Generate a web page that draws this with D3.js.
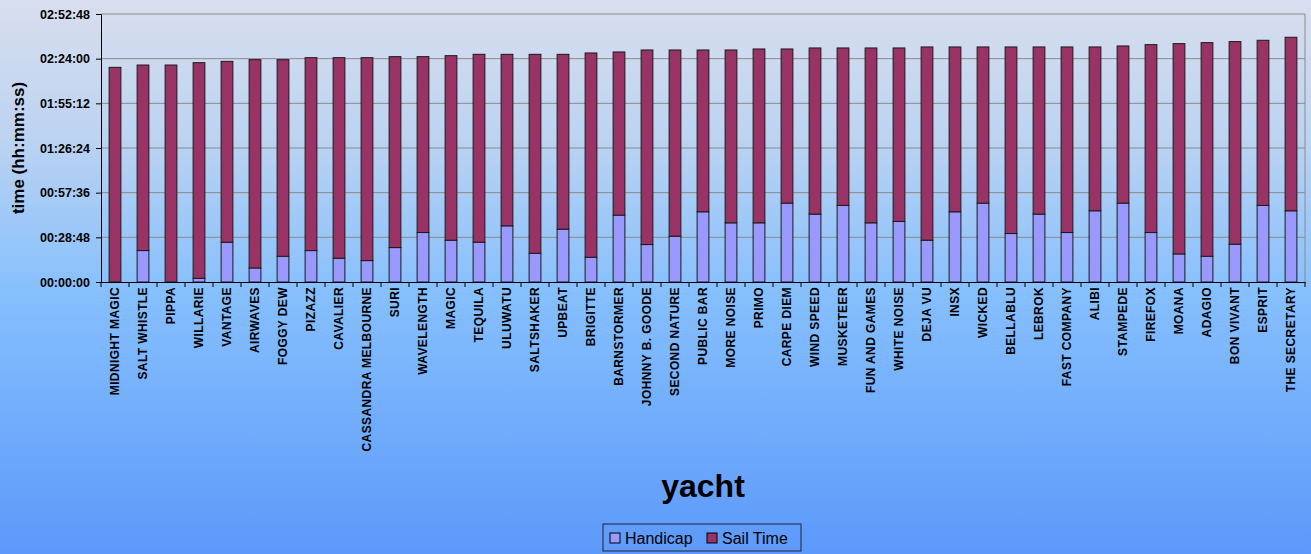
<!DOCTYPE html>
<html>
<head>
<meta charset="utf-8">
<script src="https://cdn.jsdelivr.net/npm/d3@7"></script>
<style>
  body { margin: 0; padding: 0; overflow: hidden; }
  svg { display: block; font-family: "Liberation Sans", Arial, sans-serif; }
</style>
</head>
<body>
<div id="chart"></div>
<script>
const FRAME_WIDTH = 1311;
const FRAME_HEIGHT = 554;
const MARGINS = {left: 101, right: 6, top: 14, bottom: 272};
const VIS_WIDTH = FRAME_WIDTH - MARGINS.left - MARGINS.right;
const VIS_HEIGHT = FRAME_HEIGHT - MARGINS.top - MARGINS.bottom;

// yachts, in the order shown
const YACHTS = ["MIDNIGHT MAGIC", "SALT WHISTLE", "PIPPA", "WILLARIE", "VANTAGE",
  "AIRWAVES", "FOGGY DEW", "PIZAZZ", "CAVALIER", "CASSANDRA MELBOURNE", "SURI",
  "WAVELENGTH", "MAGIC", "TEQUILA", "ULUWATU", "SALTSHAKER", "UPBEAT", "BRIGITTE",
  "BARNSTORMER", "JOHNNY B. GOODE", "SECOND NATURE", "PUBLIC BAR", "MORE NOISE",
  "PRIMO", "CARPE DIEM", "WIND SPEED", "MUSKETEER", "FUN AND GAMES", "WHITE NOISE",
  "DEJA VU", "INSX", "WICKED", "BELLABLU", "LEBROK", "FAST COMPANY", "ALIBI",
  "STAMPEDE", "FIREFOX", "MOANA", "ADAGIO", "BON VIVANT", "ESPRIT", "THE SECRETARY"];

// seconds
const HANDICAP = [0, 1216, 0, 142, 1539, 543, 996, 1216, 918, 828, 1332,
  1914, 1617, 1539, 2173, 1112, 2044, 957, 2587, 1449, 1772, 2716, 2289,
  2289, 3052, 2626, 2962, 2289, 2341, 1617, 2716, 3052, 1875, 2626, 1914, 2755,
  3052, 1914, 1086, 996, 1462, 2962, 2755];

const SAIL_TIME = [8304, 7178, 8394, 8343, 6997, 8058, 7605, 7463, 7761, 7851, 7386,
  6804, 7139, 7269, 6635, 7696, 6764, 7903, 6312, 7527, 7204, 6260, 6687,
  6726, 5963, 6428, 6092, 6765, 6713, 7476, 6377, 6041, 7218, 6467, 7179, 6338,
  6079, 7269, 8136, 8265, 7838, 6389, 6713];

const SERIES = ["Handicap", "Sail Time"];
const COLORS = ["#9999ff", "#993366"];
const Y_TICKS = [0, 1728, 3456, 5184, 6912, 8640, 10368];

function fmt(s) {
  const h = Math.floor(s / 3600), m = Math.floor((s % 3600) / 60), sec = s % 60;
  return [h, m, sec].map(v => String(v).padStart(2, "0")).join(":");
}

const FRAME = d3.select("#chart")
  .append("svg")
    .attr("width", FRAME_WIDTH)
    .attr("height", FRAME_HEIGHT);

// background gradient
const grad = FRAME.append("defs").append("linearGradient")
  .attr("id", "bg").attr("x1", 0).attr("y1", 0).attr("x2", 0).attr("y2", 1);
grad.append("stop").attr("offset", "0%").attr("stop-color", "#d8deee");
grad.append("stop").attr("offset", "25%").attr("stop-color", "#bcd3f1");
grad.append("stop").attr("offset", "52%").attr("stop-color", "#87c0fd");
grad.append("stop").attr("offset", "100%").attr("stop-color", "#5c99fa");

FRAME.append("rect")
  .attr("width", FRAME_WIDTH).attr("height", FRAME_HEIGHT)
  .attr("fill", "url(#bg)");

const data = YACHTS.map((d, i) => ({yacht: d, "Handicap": HANDICAP[i], "Sail Time": SAIL_TIME[i]}));
const stacked = d3.stack().keys(SERIES)(data);

const X_SCALE = d3.scaleBand().domain(YACHTS).range([0, VIS_WIDTH]);
const Y_SCALE = d3.scaleLinear().domain([0, 10368]).range([VIS_HEIGHT, 0]);

const G = FRAME.append("g")
  .attr("transform", "translate(" + MARGINS.left + "," + MARGINS.top + ")");

// gridlines
G.append("g")
  .selectAll("line")
  .data(Y_TICKS.slice(1))
  .enter().append("line")
    .attr("x1", 0).attr("x2", VIS_WIDTH)
    .attr("y1", d => Y_SCALE(d)).attr("y2", d => Y_SCALE(d))
    .attr("stroke", "#8a8a8a").attr("stroke-width", 1);

// right border of plot area
G.append("line")
  .attr("x1", VIS_WIDTH).attr("x2", VIS_WIDTH)
  .attr("y1", 0).attr("y2", VIS_HEIGHT)
  .attr("stroke", "#8a8a8a");

// bars
const barW = X_SCALE.bandwidth() * 0.42;
G.append("g")
  .selectAll("g")
  .data(stacked)
  .enter().append("g")
    .attr("fill", (d, i) => COLORS[i])
  .selectAll("rect")
  .data(d => d)
  .enter().append("rect")
    .attr("x", d => X_SCALE(d.data.yacht) + (X_SCALE.bandwidth() - barW) / 2)
    .attr("y", d => Y_SCALE(d[1]))
    .attr("width", barW)
    .attr("height", d => Y_SCALE(d[0]) - Y_SCALE(d[1]))
    .attr("stroke", "#1a1a1a")
    .attr("stroke-width", 1);

// y axis
const yAxis = G.append("g")
  .call(d3.axisLeft(Y_SCALE).tickValues(Y_TICKS).tickFormat(fmt).tickSize(5).tickPadding(6));
yAxis.select(".domain").attr("stroke", "#000");
yAxis.selectAll("text")
  .attr("font-size", "12.5px").attr("font-weight", "bold")
  .attr("font-family", "Liberation Sans, Arial, sans-serif").attr("fill", "#000");

// x axis
const xAxis = G.append("g")
  .attr("transform", "translate(0," + VIS_HEIGHT + ")")
  .call(d3.axisBottom(X_SCALE).tickSize(0).tickPadding(0));
xAxis.select(".domain").attr("stroke", "#000");
xAxis.selectAll("text")
  .attr("transform", "rotate(-90)")
  .attr("x", -5).attr("y", 0).attr("dy", "0.35em")
  .attr("text-anchor", "end")
  .attr("font-size", "12px").attr("font-weight", "bold")
  .attr("letter-spacing", "0.4px")
  .attr("font-family", "Liberation Sans, Arial, sans-serif").attr("fill", "#000");

// tick marks between categories
G.append("g")
  .selectAll("line")
  .data(YACHTS.concat(["_end"]))
  .enter().append("line")
    .attr("x1", (d, i) => i * X_SCALE.step())
    .attr("x2", (d, i) => i * X_SCALE.step())
    .attr("y1", VIS_HEIGHT).attr("y2", VIS_HEIGHT + 5)
    .attr("stroke", "#000");

// axis titles
FRAME.append("text")
  .attr("transform", "translate(24," + (MARGINS.top + VIS_HEIGHT / 2) + ") rotate(-90)")
  .attr("text-anchor", "middle")
  .attr("font-size", "17px").attr("font-weight", "bold")
  .text("time (hh:mm:ss)");

FRAME.append("text")
  .attr("x", 703).attr("y", 497)
  .attr("text-anchor", "middle")
  .attr("font-size", "32px").attr("font-weight", "bold")
  .text("yacht");

// legend
const LEGEND = FRAME.append("g").attr("transform", "translate(603,524)");
LEGEND.append("rect")
  .attr("width", 198).attr("height", 27)
  .attr("fill", "none").attr("stroke", "#223").attr("stroke-width", 1);
const items = LEGEND.selectAll(".item")
  .data(SERIES)
  .enter().append("g")
    .attr("transform", (d, i) => "translate(" + (i === 0 ? 7 : 104) + ",0)");
items.append("rect")
  .attr("y", 9).attr("width", 10).attr("height", 10)
  .attr("fill", (d, i) => COLORS[i]).attr("stroke", "#000");
items.append("text")
  .attr("x", 15).attr("y", 20)
  .attr("font-size", "16px")
  .text(d => d);
</script>
</body>
</html>
